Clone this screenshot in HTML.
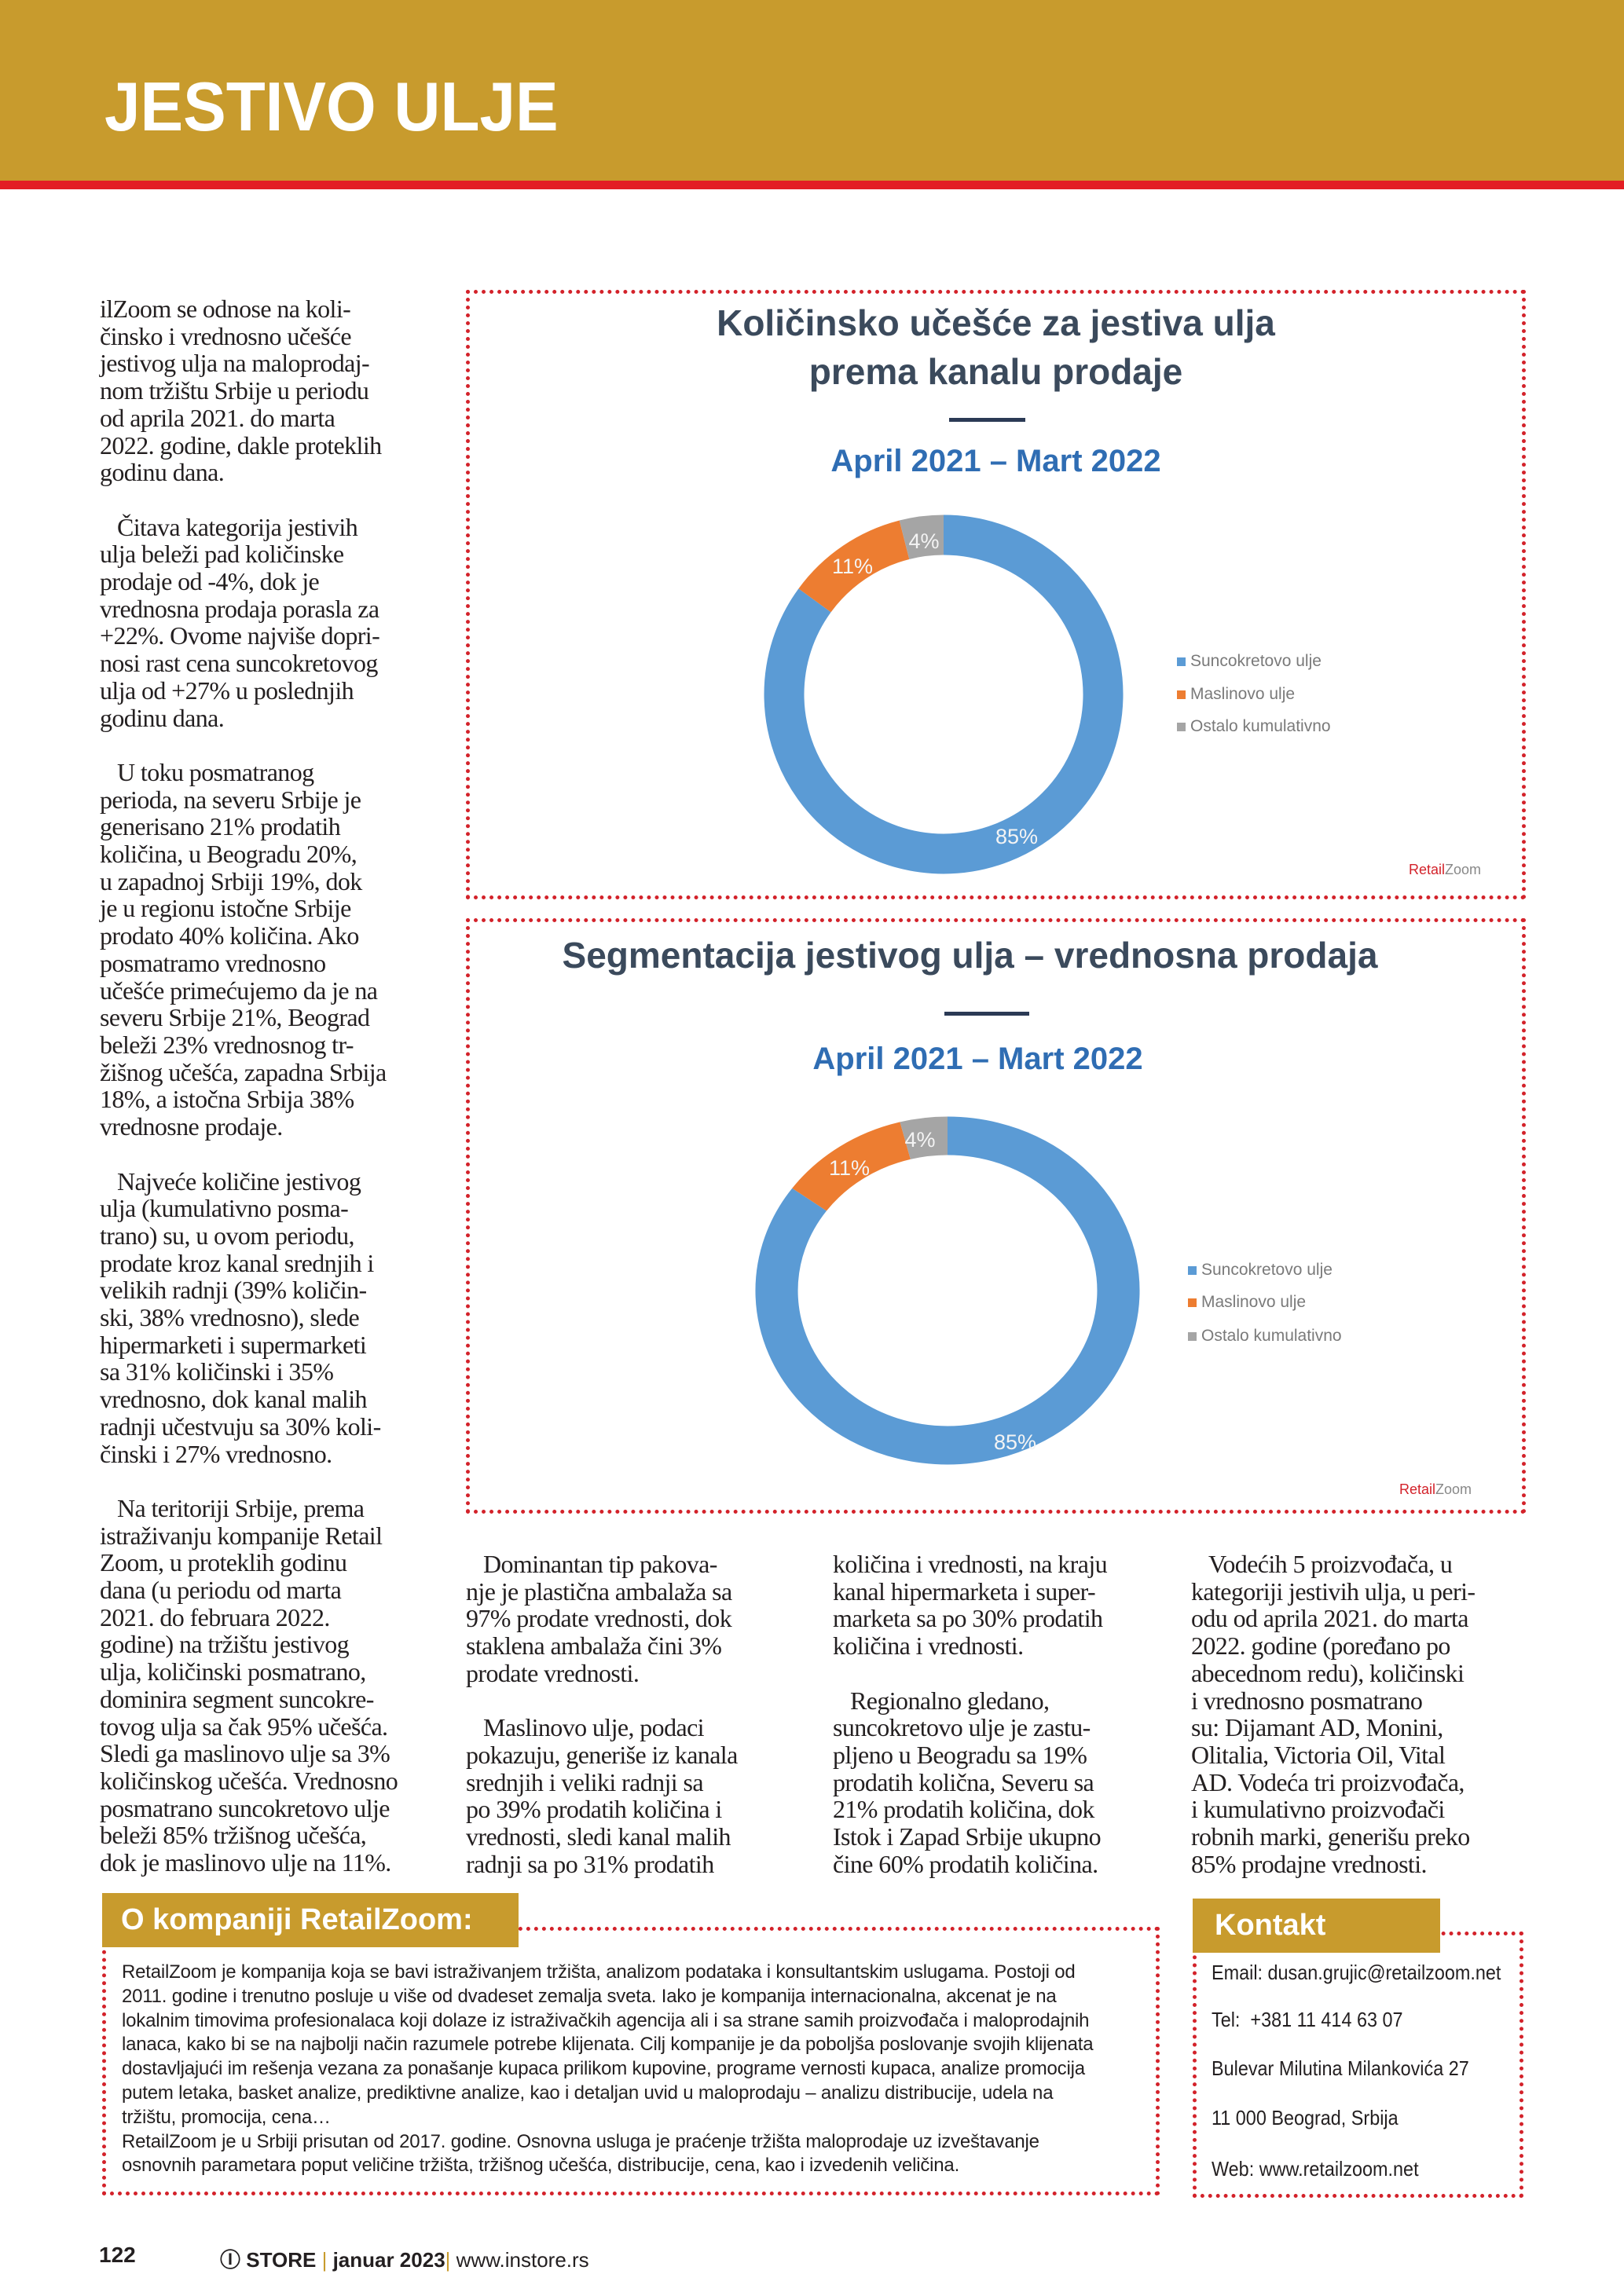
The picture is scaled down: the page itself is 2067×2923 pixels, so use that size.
<!DOCTYPE html>
<html><head><meta charset="utf-8">
<style>
*{margin:0;padding:0;box-sizing:border-box}
body{width:2067px;height:2923px;position:relative;background:#fff;overflow:hidden;font-family:"Liberation Serif",serif;color:#231f20}
.abs{position:absolute}
.col{position:absolute;font-family:"Liberation Serif",serif;font-size:32px;line-height:34.7px;letter-spacing:-0.6px;white-space:nowrap}
.col .i{padding-left:22px}
.dot{position:absolute;border:5px dotted #d3222a}
.sans{font-family:"Liberation Sans Narrow","Liberation Sans",sans-serif}
.ttl{position:absolute;left:593px;width:1349px;text-align:center;font-family:"Liberation Sans Narrow","Liberation Sans",sans-serif;font-weight:bold;color:#3b4a5c}
.about{position:absolute;left:155px;top:2496px;font-family:"Liberation Sans Narrow","Liberation Sans",sans-serif;font-size:24px;line-height:30.8px;white-space:nowrap;color:#231f20;letter-spacing:-0.2px}
.kon{position:absolute;left:1542px;font-family:"Liberation Sans Narrow","Liberation Sans",sans-serif;font-size:26px;white-space:nowrap;transform:scaleX(0.9);transform-origin:0 0}
.leg{position:absolute;font-family:"Liberation Sans Narrow","Liberation Sans",sans-serif;font-size:21px;color:#7a7a7a;white-space:nowrap}
.leg span{display:inline-block;width:11px;height:11px;margin-right:6px;vertical-align:middle}
</style></head><body>

<div class="abs" style="left:0;top:0;width:2067px;height:230px;background:#c89b2d"></div>
<div class="abs" style="left:0;top:230px;width:2067px;height:11px;background:#e31e24"></div>
<div class="abs" style="left:133px;top:86px;font-family:'Liberation Sans',sans-serif;font-weight:bold;font-size:88px;line-height:100px;color:#fff;transform:scaleX(0.93);transform-origin:0 0;white-space:nowrap">JESTIVO ULJE</div>

<div class="col" style="left:127px;top:376px">
<div>ilZoom se odnose na koli-</div>
<div>činsko i vrednosno učešće</div>
<div>jestivog ulja na maloprodaj-</div>
<div>nom tržištu Srbije u periodu</div>
<div>od aprila 2021. do marta</div>
<div>2022. godine, dakle proteklih</div>
<div>godinu dana.</div>
<div>&nbsp;</div>
<div class="i">Čitava kategorija jestivih</div>
<div>ulja beleži pad količinske</div>
<div>prodaje od -4%, dok je</div>
<div>vrednosna prodaja porasla za</div>
<div>+22%. Ovome najviše dopri-</div>
<div>nosi rast cena suncokretovog</div>
<div>ulja od +27% u poslednjih</div>
<div>godinu dana.</div>
<div>&nbsp;</div>
<div class="i">U toku posmatranog</div>
<div>perioda, na severu Srbije je</div>
<div>generisano 21% prodatih</div>
<div>količina, u Beogradu 20%,</div>
<div>u zapadnoj Srbiji 19%, dok</div>
<div>je u regionu istočne Srbije</div>
<div>prodato 40% količina. Ako</div>
<div>posmatramo vrednosno</div>
<div>učešće primećujemo da je na</div>
<div>severu Srbije 21%, Beograd</div>
<div>beleži 23% vrednosnog tr-</div>
<div>žišnog učešća, zapadna Srbija</div>
<div>18%, a istočna Srbija 38%</div>
<div>vrednosne prodaje.</div>
<div>&nbsp;</div>
<div class="i">Najveće količine jestivog</div>
<div>ulja (kumulativno posma-</div>
<div>trano) su, u ovom periodu,</div>
<div>prodate kroz kanal srednjih i</div>
<div>velikih radnji (39% količin-</div>
<div>ski, 38% vrednosno), slede</div>
<div>hipermarketi i supermarketi</div>
<div>sa 31% količinski i 35%</div>
<div>vrednosno, dok kanal malih</div>
<div>radnji učestvuju sa 30% koli-</div>
<div>činski i 27% vrednosno.</div>
<div>&nbsp;</div>
<div class="i">Na teritoriji Srbije, prema</div>
<div>istraživanju kompanije Retail</div>
<div>Zoom, u proteklih godinu</div>
<div>dana (u periodu od marta</div>
<div>2021. do februara 2022.</div>
<div>godine) na tržištu jestivog</div>
<div>ulja, količinski posmatrano,</div>
<div>dominira segment suncokre-</div>
<div>tovog ulja sa čak 95% učešća.</div>
<div>Sledi ga maslinovo ulje sa 3%</div>
<div>količinskog učešća. Vrednosno</div>
<div>posmatrano suncokretovo ulje</div>
<div>beleži 85% tržišnog učešća,</div>
<div>dok je maslinovo ulje na 11%.</div>
</div>

<!-- Chart 1 -->
<div class="dot" style="left:593px;top:369px;width:1349px;height:776px"></div>
<div class="ttl" style="top:380px;font-size:46px;line-height:62px">Količinsko učešće za jestiva ulja<br>prema kanalu prodaje</div>
<div class="abs" style="left:1208px;top:532px;width:97px;height:5px;background:#2b3a55"></div>
<div class="ttl" style="top:560px;font-size:40px;line-height:54px;color:#2f6db3">April 2021 – Mart 2022</div>
<svg class="abs" style="left:0;top:0" width="2067" height="2923">
 <g transform="rotate(-90 1201 884)" fill="none" stroke-width="51">
  <circle cx="1201" cy="884" r="203" stroke="#5b9bd5" stroke-dasharray="1084.2 1275.5"/>
  <circle cx="1201" cy="884" r="203" stroke="#ed7d31" stroke-dasharray="140.3 1275.5" stroke-dashoffset="-1084.2"/>
  <circle cx="1201" cy="884" r="203" stroke="#a5a5a5" stroke-dasharray="51 1275.5" stroke-dashoffset="-1224.5"/>
 </g>
 <g transform="translate(1206 1643) scale(1.104 1) rotate(-90)" fill="none" stroke-width="49">
  <circle cx="0" cy="0" r="197" stroke="#5b9bd5" stroke-dasharray="1052 1237.8"/>
  <circle cx="0" cy="0" r="197" stroke="#ed7d31" stroke-dasharray="136.2 1237.8" stroke-dashoffset="-1052"/>
  <circle cx="0" cy="0" r="197" stroke="#a5a5a5" stroke-dasharray="49.6 1237.8" stroke-dashoffset="-1188.2"/>
 </g>
 <g font-family="Liberation Sans Narrow, Liberation Sans, sans-serif" font-size="27" fill="#f4f4f4" text-anchor="middle">
  <text x="1176" y="698">4%</text><text x="1085" y="730">11%</text><text x="1294" y="1074">85%</text>
  <text x="1171" y="1460">4%</text><text x="1081" y="1496">11%</text><text x="1292" y="1845">85%</text>
 </g>
</svg>
<div class="leg" style="left:1498px;top:830px"><span style="background:#5b9bd5"></span>Suncokretovo ulje</div>
<div class="leg" style="left:1498px;top:872px"><span style="background:#ed7d31"></span>Maslinovo ulje</div>
<div class="leg" style="left:1498px;top:913px"><span style="background:#a5a5a5"></span>Ostalo kumulativno</div>
<div class="abs sans" style="left:1793px;top:1097px;font-size:18px;color:#888"><span style="color:#d3222a">Retail</span>Zoom</div>

<!-- Chart 2 -->
<div class="dot" style="left:593px;top:1169px;width:1349px;height:758px"></div>
<div class="ttl" style="top:1185px;font-size:46px;line-height:62px;left:560px">Segmentacija jestivog ulja – vrednosna prodaja</div>
<div class="abs" style="left:1202px;top:1288px;width:108px;height:5px;background:#2b3a55"></div>
<div class="ttl" style="top:1321px;font-size:40px;line-height:54px;color:#2f6db3;left:570px">April 2021 – Mart 2022</div>
<div class="leg" style="left:1512px;top:1605px"><span style="background:#5b9bd5"></span>Suncokretovo ulje</div>
<div class="leg" style="left:1512px;top:1646px"><span style="background:#ed7d31"></span>Maslinovo ulje</div>
<div class="leg" style="left:1512px;top:1689px"><span style="background:#a5a5a5"></span>Ostalo kumulativno</div>
<div class="abs sans" style="left:1781px;top:1886px;font-size:18px;color:#888"><span style="color:#d3222a">Retail</span>Zoom</div>

<!-- bottom columns -->
<div class="col" style="left:593px;top:1974px">
<div class="i">Dominantan tip pakova-</div>
<div>nje je plastična ambalaža sa</div>
<div>97% prodate vrednosti, dok</div>
<div>staklena ambalaža čini 3%</div>
<div>prodate vrednosti.</div>
<div>&nbsp;</div>
<div class="i">Maslinovo ulje, podaci</div>
<div>pokazuju, generiše iz kanala</div>
<div>srednjih i veliki radnji sa</div>
<div>po 39% prodatih količina i</div>
<div>vrednosti, sledi kanal malih</div>
<div>radnji sa po 31% prodatih</div>
</div>
<div class="col" style="left:1060px;top:1974px">
<div>količina i vrednosti, na kraju</div>
<div>kanal hipermarketa i super-</div>
<div>marketa sa po 30% prodatih</div>
<div>količina i vrednosti.</div>
<div>&nbsp;</div>
<div class="i">Regionalno gledano,</div>
<div>suncokretovo ulje je zastu-</div>
<div>pljeno u Beogradu sa 19%</div>
<div>prodatih količna, Severu sa</div>
<div>21% prodatih količina, dok</div>
<div>Istok i Zapad Srbije ukupno</div>
<div>čine 60% prodatih količina.</div>
</div>
<div class="col" style="left:1516px;top:1974px">
<div class="i">Vodećih 5 proizvođača, u</div>
<div>kategoriji jestivih ulja, u peri-</div>
<div>odu od aprila 2021. do marta</div>
<div>2022. godine (poređano po</div>
<div>abecednom redu), količinski</div>
<div>i vrednosno posmatrano</div>
<div>su: Dijamant AD, Monini,</div>
<div>Olitalia, Victoria Oil, Vital</div>
<div>AD. Vodeća tri proizvođača,</div>
<div>i kumulativno proizvođači</div>
<div>robnih marki, generišu preko</div>
<div>85% prodajne vrednosti.</div>
</div>

<!-- About -->
<div class="dot" style="left:130px;top:2453px;width:1346px;height:342px"></div>
<div class="abs sans" style="left:130px;top:2410px;width:530px;height:69px;background:#c89b2d;color:#fff;font-weight:bold;font-size:38px;line-height:69px;padding-left:24px;white-space:nowrap">O kompaniji RetailZoom:</div>
<div class="about">
<div>RetailZoom je kompanija koja se bavi istraživanjem tržišta, analizom podataka i konsultantskim uslugama. Postoji od</div>
<div>2011. godine i trenutno posluje u više od dvadeset zemalja sveta. Iako je kompanija internacionalna, akcenat je na</div>
<div>lokalnim timovima profesionalaca koji dolaze iz istraživačkih agencija ali i sa strane samih proizvođača i maloprodajnih</div>
<div>lanaca, kako bi se na najbolji način razumele potrebe klijenata. Cilj kompanije je da poboljša poslovanje svojih klijenata</div>
<div>dostavljajući im rešenja vezana za ponašanje kupaca prilikom kupovine, programe vernosti kupaca, analize promocija</div>
<div>putem letaka, basket analize, prediktivne analize, kao i detaljan uvid u maloprodaju – analizu distribucije, udela na</div>
<div>tržištu, promocija, cena…</div>
<div>RetailZoom je u Srbiji prisutan od 2017. godine. Osnovna usluga je praćenje tržišta maloprodaje uz izveštavanje</div>
<div>osnovnih parametara poput veličine tržišta, tržišnog učešća, distribucije, cena, kao i izvedenih veličina.</div>
</div>

<!-- Kontakt -->
<div class="dot" style="left:1518px;top:2459px;width:421px;height:339px"></div>
<div class="abs sans" style="left:1518px;top:2417px;width:315px;height:69px;background:#c89b2d;color:#fff;font-weight:bold;font-size:38px;line-height:69px;padding-left:28px">Kontakt</div>
<div class="kon" style="top:2496px">Email: dusan.grujic@retailzoom.net</div>
<div class="kon" style="top:2556px">Tel:&nbsp; +381 11 414 63 07</div>
<div class="kon" style="top:2618px">Bulevar Milutina Milankovića 27</div>
<div class="kon" style="top:2681px">11 000 Beograd, Srbija</div>
<div class="kon" style="top:2746px">Web: www.retailzoom.net</div>

<!-- footer -->
<div class="abs sans" style="left:126px;top:2855px;font-size:28px;font-weight:bold;white-space:nowrap">122</div>
<div class="abs sans" style="left:280px;top:2857px;font-size:26px;white-space:nowrap"><b>Ⓘ STORE</b> <span style="color:#c89b2d">|</span> <b>januar 2023</b><span style="color:#c89b2d">|</span> www.instore.rs</div>

</body></html>
